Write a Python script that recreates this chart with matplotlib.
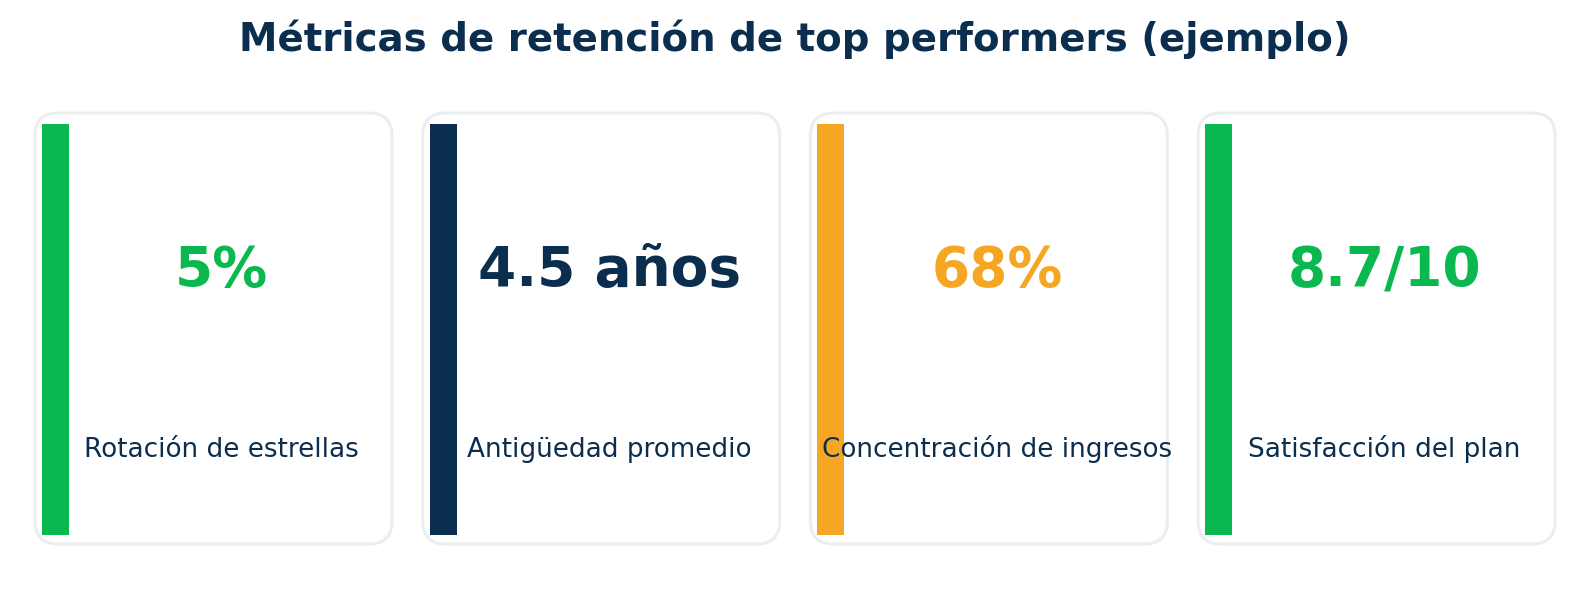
import matplotlib
matplotlib.use('Agg')
import matplotlib.pyplot as plt
from matplotlib.patches import FancyBboxPatch, Rectangle

# card data
labels = ['Rotación de estrellas', 'Antigüedad promedio',
          'Concentración de ingresos', 'Satisfacción del plan']
values = ['5%', '4.5 años', '68%', '8.7/10']
colors = ['#0BB84F', '#0B2E4F', '#F5A623', '#0BB84F']

navy = '#0B2E4F'
border = '#EBEEF1'

W, H = 1589, 616
fig = plt.figure(figsize=(W / 100, H / 100), dpi=100)
ax = fig.add_axes([0, 0, 1, 1])
ax.set_xlim(0, W)
ax.set_ylim(H, 0)
ax.axis('off')

card_w, card_h = 357, 431
gap = 30.7
left0, top = 35, 113

for i, (lab, val, col) in enumerate(zip(labels, values, colors)):
    x0 = left0 + i * (card_w + gap)
    card = FancyBboxPatch((x0, top), card_w, card_h,
                          boxstyle='round,pad=0,rounding_size=23',
                          facecolor='white', edgecolor=border, linewidth=2.2)
    ax.add_patch(card)
    ax.add_patch(Rectangle((x0 + 7, top + 11), 27, 411, facecolor=col,
                           edgecolor='none'))
    cx = x0 + card_w / 2 + 8
    ax.text(cx, 286, val, ha='center', va='baseline', fontsize=39.5,
            fontweight='bold', color=col)
    ax.text(cx, 457, lab, ha='center', va='baseline', fontsize=18.9,
            color=navy)

ax.text(W / 2, 51, 'Métricas de retención de top performers (ejemplo)',
        ha='center', va='baseline', fontsize=27.9, fontweight='bold',
        color=navy)

fig.savefig('out.png', dpi=100, facecolor='white')
